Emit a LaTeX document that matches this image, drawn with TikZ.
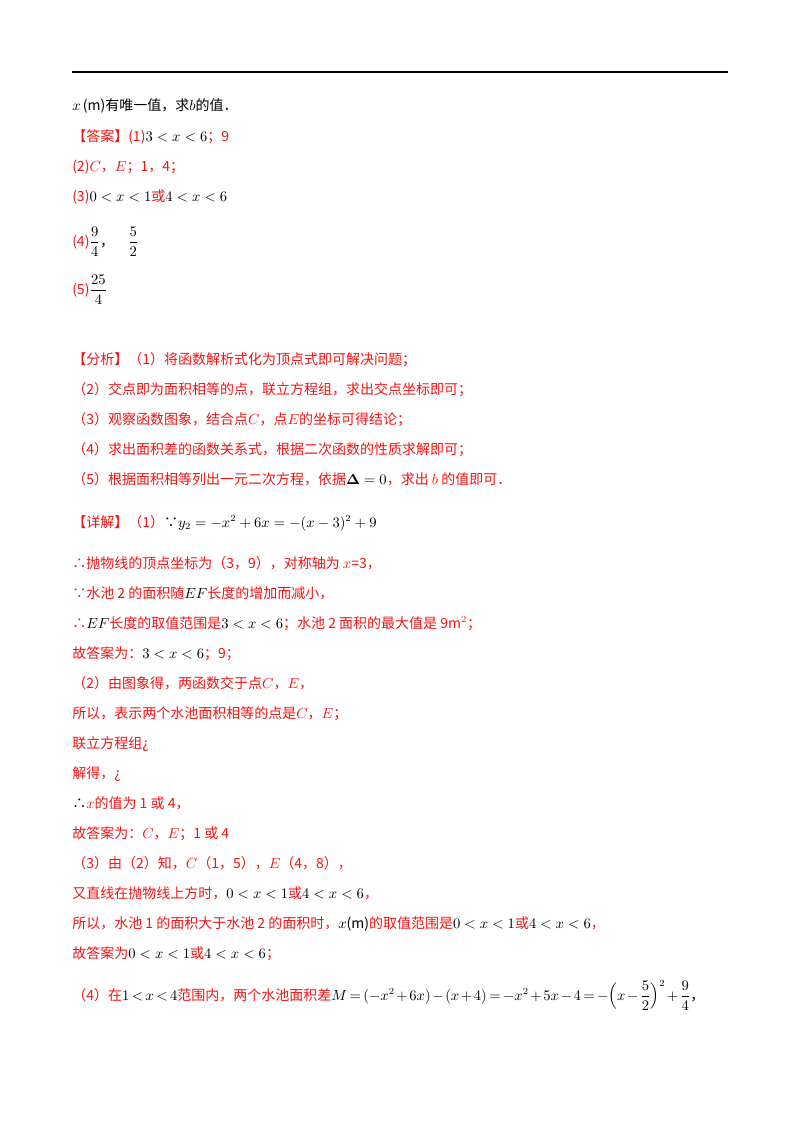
\documentclass[tikz,border=0pt]{standalone}
\usepackage{fontspec}
\usepackage{amsmath}
\setmainfont{Noto Sans CJK SC}
\definecolor{rd}{RGB}{240,20,20}
\newcommand{\bk}[1]{{\color{black}#1}}
\newcommand{\mb}[1]{{\color{black}$#1$}}
\tikzset{ln/.style={anchor=base west,inner sep=0pt,font=\fontsize{10.5pt}{12pt}\selectfont,text=rd}}
\begin{document}
\begin{tikzpicture}[x=0.75pt,y=-0.75pt]
\useasboundingbox (0,0) rectangle (800,1132);
\coordinate (l1) at (72,72); \coordinate (l2) at (728,72);
\draw[line width=1.2pt] (l1) -- (l2);
\node[ln,text=black] (a1) at (72,110) {$x$\,(m)有唯一值，求$b$的值．};
\node[ln] (a2) at (72,141) {【答案】(1)\mb{3<x<6}；9};
\node[ln] (a3) at (72,171) {(2)$C$，$E$；1，4；};
\node[ln] (a4) at (72,201) {(3)\mb{0<x<1}或\mb{4<x<6}};
\node[ln] (a5) at (72,246) {(4)\mb{\dfrac94}\bk{，}\quad\mb{\dfrac52}};
\node[ln] (a6) at (72,294) {(5)\mb{\dfrac{25}{4}}};
\node[ln] (b1) at (72,364) {【分析】（1）将函数解析式化为顶点式即可解决问题；};
\node[ln] (b2) at (72,394) {（2）交点即为面积相等的点，联立方程组，求出交点坐标即可；};
\node[ln] (b3) at (72,424) {（3）观察函数图象，结合点$C$，点$E$的坐标可得结论；};
\node[ln] (b4) at (72,454) {（4）求出面积差的函数关系式，根据二次函数的性质求解即可；};
\node[ln] (b5) at (72,484) {（5）根据面积相等列出一元二次方程，依据\mb{\boldsymbol{\Delta}=0}，求出 $b$ 的值即可．};
\node[ln] (c1) at (72,527) {【详解】（1）\bk{∵}\mb{y_2=-x^2+6x=-(x-3)^2+9}};
\node[ln] (c2) at (72,568) {∴抛物线的顶点坐标为（3，9），对称轴为 $x$=3，};
\node[ln] (c3) at (72,598) {∵水池 2 的面积随\mb{EF}长度的增加而减小，};
\node[ln] (c4) at (72,628) {∴\mb{EF}长度的取值范围是\mb{3<x<6}；水池 2 面积的最大值是 9m$^2$；};
\node[ln] (c5) at (72,658) {故答案为：\mb{3<x<6}；9；};
\node[ln] (c6) at (72,688) {（2）由图象得，两函数交于点$C$，$E$，};
\node[ln] (c7) at (72,718) {所以，表示两个水池面积相等的点是$C$，$E$；};
\node[ln] (c8) at (72,748) {联立方程组¿};
\node[ln] (c9) at (72,778) {解得，¿};
\node[ln] (c10) at (72,808) {\bk{∴}$x$的值为 1 或 4，};
\node[ln] (c11) at (72,838) {故答案为：$C$，$E$；1 或 4};
\node[ln] (c12) at (72,868) {（3）由（2）知，$C$（1，5），$E$（4，8），};
\node[ln] (c13) at (72,898) {又直线在抛物线上方时，\mb{0<x<1}或\mb{4<x<6}，};
\node[ln] (c14) at (72,928) {所以，水池 1 的面积大于水池 2 的面积时，\mb{x}\bk{(m)}的取值范围是\mb{0<x<1}或\mb{4<x<6}，};
\node[ln] (c15) at (72,958) {故答案为\mb{0<x<1}或\mb{4<x<6}；};
\node[ln] (c16) at (72,1000) {\medmuskip=2mu\thickmuskip=3mu（4）在\mb{1<x<4}范围内，两个水池面积差\mb{M=(-x^2+6x)-(x+4)=-x^2+5x-4=-\Bigl(x-\dfrac52\Bigr)^2+\dfrac94}\bk{，}};
\end{tikzpicture}
\end{document}
